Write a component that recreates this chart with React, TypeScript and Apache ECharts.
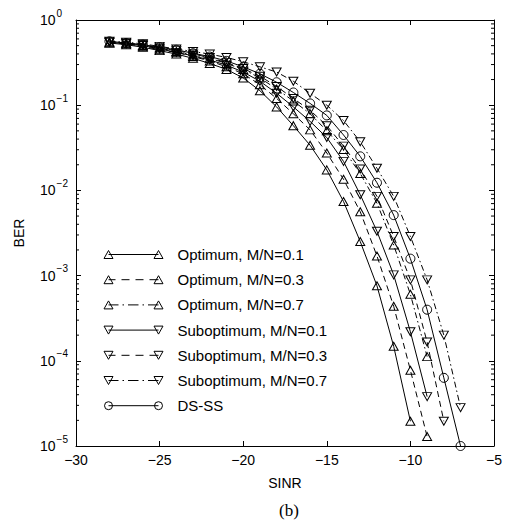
import React, { useEffect, useRef } from "react";
import * as echarts from "echarts";

// SINR (dB) sample positions
const sinr = [-28, -27, -26, -25, -24, -23, -22, -21, -20, -19, -18, -17, -16, -15, -14, -13, -12, -11, -10, -9, -8, -7];

// BER values (each series starts at -28 dB)
const optimum01 = [0.537, 0.513, 0.479, 0.437, 0.398, 0.355, 0.309, 0.263, 0.209, 0.148, 0.0955, 0.0575, 0.0339, 0.0174, 0.00741, 0.00251, 0.000759, 0.000148, 1.95e-5];
const optimum03 = [0.537, 0.525, 0.49, 0.447, 0.417, 0.372, 0.331, 0.282, 0.234, 0.174, 0.12, 0.0794, 0.0513, 0.0275, 0.0135, 0.00562, 0.0017, 0.000437, 7.76e-5, 1.29e-5];
const optimum07 = [0.55, 0.537, 0.501, 0.468, 0.427, 0.389, 0.355, 0.309, 0.263, 0.209, 0.155, 0.112, 0.0794, 0.0501, 0.0302, 0.0158, 0.00708, 0.00229, 0.000603, 0.000112];
const subopt01 = [0.55, 0.525, 0.501, 0.457, 0.417, 0.38, 0.339, 0.295, 0.245, 0.191, 0.138, 0.0955, 0.0646, 0.0417, 0.0219, 0.00891, 0.00331, 0.00102, 0.000219, 3.8e-5];
const subopt03 = [0.55, 0.537, 0.513, 0.468, 0.437, 0.398, 0.363, 0.316, 0.269, 0.219, 0.166, 0.12, 0.0871, 0.0575, 0.0331, 0.0178, 0.00851, 0.00288, 0.000891, 0.000166, 1.95e-5];
const subopt07 = [0.562, 0.55, 0.525, 0.49, 0.457, 0.427, 0.398, 0.363, 0.324, 0.282, 0.245, 0.191, 0.138, 0.1, 0.0661, 0.0372, 0.0182, 0.00851, 0.00288, 0.000891, 0.0002, 2.82e-5];
const dsss = [0.562, 0.537, 0.513, 0.479, 0.447, 0.407, 0.372, 0.331, 0.282, 0.234, 0.186, 0.141, 0.105, 0.0759, 0.0447, 0.0251, 0.0123, 0.00513, 0.00158, 0.000398, 6.31e-5, 1.0e-5];

// axis ticks
const xTicks = [-30, -25, -20, -15, -10, -5];
const yDecades = [1e-5, 1e-4, 1e-3, 1e-2, 1e-1, 1];
const minorMultipliers = [2, 3, 4, 5, 6, 7, 8, 9];

const FONT = "'Liberation Sans', Arial, Helvetica, sans-serif";
const SOLID: any = "solid";
const DASHED = [6, 4];
const DASHDOT = [6, 3, 1.5, 3];

const triUp = (cx: number) => `M${cx - 4.5},9 L${cx + 4.5},9 L${cx},1 Z`;
const triDown = (cx: number) => `M${cx - 4.5},1 L${cx + 4.5},1 L${cx},9 Z`;
const circ = (cx: number) => `M${cx - 4},5 A4,4 0 1,0 ${cx + 4},5 A4,4 0 1,0 ${cx - 4},5 Z`;
const BOX = "M0,0 M60,10 ";
const lineSolid = "M5,5 L55,5 ";
const lineDashed = "M5,5 L12,5 M18,5 L26,5 M32,5 L40,5 M46,5 L55,5 ";
const lineDashDot = "M5,5 L15,5 M19,5 L20.5,5 M24.5,5 L35,5 M39,5 L40.5,5 M44.5,5 L55,5 ";

const seriesDefs = [
  { name: "Optimum, M/N=0.1", values: optimum01, symbol: "triangle", rotate: 0, dash: SOLID, icon: BOX + lineSolid + triUp(5) + " " + triUp(55) },
  { name: "Optimum, M/N=0.3", values: optimum03, symbol: "triangle", rotate: 0, dash: DASHED, icon: BOX + lineDashed + triUp(5) + " " + triUp(55) },
  { name: "Optimum, M/N=0.7", values: optimum07, symbol: "triangle", rotate: 0, dash: DASHDOT, icon: BOX + lineDashDot + triUp(5) + " " + triUp(55) },
  { name: "Suboptimum, M/N=0.1", values: subopt01, symbol: "triangle", rotate: 180, dash: SOLID, icon: BOX + lineSolid + triDown(5) + " " + triDown(55) },
  { name: "Suboptimum, M/N=0.3", values: subopt03, symbol: "triangle", rotate: 180, dash: DASHED, icon: BOX + lineDashed + triDown(5) + " " + triDown(55) },
  { name: "Suboptimum, M/N=0.7", values: subopt07, symbol: "triangle", rotate: 180, dash: DASHDOT, icon: BOX + lineDashDot + triDown(5) + " " + triDown(55) },
  { name: "DS-SS", values: dsss, symbol: "circle", rotate: 0, dash: SOLID, icon: BOX + lineSolid + circ(5) + " " + circ(55) },
];

const minus = (v: number) => (v < 0 ? "\u2212" + Math.abs(v) : String(v));

export default function App() {
  const ref = useRef<HTMLDivElement>(null);
  useEffect(() => {
    if (!ref.current) return;
    const chart = echarts.init(ref.current, null, { renderer: "svg" });
    const xMin = xTicks[0];
    const xMax = xTicks[xTicks.length - 1];
    const minorTicks: number[][] = [];
    yDecades.slice(0, -1).forEach((d) => minorMultipliers.forEach((m) => minorTicks.push([xMin, m * d])));

    const axisCommon = {
      axisLine: { onZero: false, lineStyle: { color: "#000", width: 1 } },
      axisTick: { inside: true, length: 5, lineStyle: { color: "#000", width: 1 } },
      splitLine: { show: false },
    };

    const lineSeries = seriesDefs.map((s) => ({
      name: s.name,
      type: "line",
      xAxisIndex: 0,
      yAxisIndex: 0,
      data: s.values.map((v, i) => [sinr[i], v]),
      symbol: s.symbol,
      symbolRotate: s.rotate,
      symbolSize: s.symbol === "circle" ? 9 : [9, 8],
      showAllSymbol: true,
      itemStyle: { color: "none", borderColor: "#000", borderWidth: 1 },
      lineStyle: { color: "#000", width: 1, type: s.dash },
      emphasis: { disabled: true },
      z: 3,
    }));

    chart.setOption({
      animation: false,
      backgroundColor: "#fff",
      title: {
        text: "(b)",
        left: 279,
        top: 502,
        padding: 0,
        textStyle: { fontFamily: "'Liberation Serif', 'Times New Roman', serif", fontSize: 17, fontWeight: "normal", color: "#000" },
      },
      grid: { left: 76, right: 11, top: 20, bottom: 79 },
      legend: {
        orient: "vertical",
        left: 101,
        top: 247,
        padding: 0,
        itemWidth: 60,
        itemHeight: 10,
        itemGap: 10.2,
        selectedMode: false,
        data: seriesDefs.map((s) => ({ name: s.name, icon: "path://" + s.icon })),
        itemStyle: { color: "none", borderColor: "#000", borderWidth: 1 },
        textStyle: { fontFamily: FONT, fontSize: 15, lineHeight: 14, color: "#000", padding: [0, 0, 0, 9] },
      },
      xAxis: [
        {
          type: "value",
          min: xMin,
          max: xMax,
          interval: 5,
          position: "bottom",
          ...axisCommon,
          axisLabel: { color: "#000", fontSize: 14, fontFamily: FONT, margin: 7, formatter: (v: number) => minus(v) },
          name: "SINR",
          nameLocation: "middle",
          nameGap: 30,
          nameTextStyle: { color: "#000", fontSize: 14, fontFamily: FONT },
        },
        {
          type: "value",
          min: xMin,
          max: xMax,
          interval: 5,
          position: "top",
          ...axisCommon,
          axisLabel: { show: false },
        },
      ],
      yAxis: [
        {
          type: "log",
          logBase: 10,
          min: yDecades[0],
          max: yDecades[yDecades.length - 1],
          splitNumber: 5,
          position: "left",
          ...axisCommon,
          axisLabel: {
            color: "#000",
            align: "left",
            margin: 36,
            formatter: (v: number) => {
              const e = Math.round(Math.log10(v));
              return `{b|10}{s|${e < 0 ? "\u2212" + -e : e}}`;
            },
            rich: {
              b: { fontSize: 14, fontFamily: FONT, color: "#000" },
              s: { fontSize: 10, fontFamily: FONT, color: "#000", padding: [0, 0, 14, 1] },
            },
          },
          name: "BER",
          nameLocation: "middle",
          nameGap: 50,
          nameTextStyle: { color: "#000", fontSize: 14, fontFamily: FONT },
        },
        {
          type: "log",
          logBase: 10,
          min: yDecades[0],
          max: yDecades[yDecades.length - 1],
          splitNumber: 5,
          position: "right",
          ...axisCommon,
          axisLabel: { show: false },
        },
      ],
      series: [
        ...lineSeries,
        {
          type: "custom",
          name: "minorTicks",
          xAxisIndex: 0,
          yAxisIndex: 0,
          silent: true,
          data: minorTicks,
          renderItem: (params: any, api: any) => {
            const v = api.value(1);
            const pL = api.coord([xMin, v]);
            const pR = api.coord([xMax, v]);
            return {
              type: "group",
              children: [
                { type: "line", shape: { x1: pL[0], y1: pL[1], x2: pL[0] + 3, y2: pL[1] }, style: { stroke: "#000", lineWidth: 1 } },
                { type: "line", shape: { x1: pR[0] - 3, y1: pR[1], x2: pR[0], y2: pR[1] }, style: { stroke: "#000", lineWidth: 1 } },
              ],
            };
          },
        },
      ],
    });
    return () => chart.dispose();
  }, []);
  return <div ref={ref} style={{ position: "absolute", left: 0, top: 0, width: 505, height: 525 }} />;
}
